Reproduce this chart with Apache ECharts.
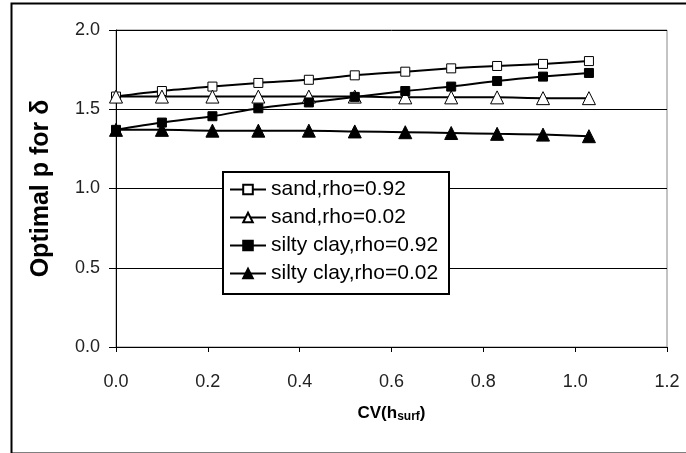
<!DOCTYPE html>
<html>
<head>
<meta charset="utf-8">
<script src="https://cdn.jsdelivr.net/npm/echarts@6/dist/echarts.min.js"></script>
<style>
  html, body { margin: 0; padding: 0; background: #fff; }
  #chart { width: 686px; height: 453px; }
</style>
</head>
<body>
<div id="chart"></div>
<script>
// CV(h_surf) values at which the optimal p was computed
var cvValues = [0, 0.1, 0.21, 0.31, 0.42, 0.52, 0.63, 0.73, 0.83, 0.93, 1.03];

var sand092 = [1.58, 1.615, 1.643, 1.666, 1.686, 1.714, 1.737, 1.758, 1.773, 1.786, 1.804];
var sand002 = [1.58, 1.58, 1.58, 1.58, 1.58, 1.58, 1.575, 1.575, 1.575, 1.57, 1.57];
var silty092 = [1.37, 1.416, 1.456, 1.506, 1.543, 1.578, 1.615, 1.643, 1.678, 1.706, 1.729];
var silty002 = [1.37, 1.37, 1.365, 1.365, 1.365, 1.36, 1.355, 1.35, 1.345, 1.34, 1.33];

var seriesNames = ['sand,rho=0.92', 'sand,rho=0.02', 'silty clay,rho=0.92', 'silty clay,rho=0.02'];

function pairs(vals) {
  return vals.map(function (v, i) { return [cvValues[i], v]; });
}

var font = 'Liberation Sans, Arial, sans-serif';

function makeSeries(name, vals, symbol, size, fill) {
  return {
    name: name,
    type: 'line',
    data: pairs(vals),
    smooth: 0.3,
    symbol: symbol,
    symbolSize: size,
    showAllSymbol: true,
    lineStyle: { color: '#000', width: 2 },
    itemStyle: { color: fill, borderColor: '#000', borderWidth: 1 },
    emphasis: { disabled: true },
    z: 3
  };
}

var chart = echarts.init(document.getElementById('chart'));
chart.setOption({
  animation: false,
  backgroundColor: '#fff',
  textStyle: { fontFamily: font },
  grid: {
    left: 116, right: 19, top: 30, bottom: 106,
    show: true, borderColor: '#888', borderWidth: 1, backgroundColor: 'transparent'
  },
  graphic: [
    {
      type: 'rect', left: 9, top: 1, z: -10,
      shape: { width: 700, height: 450 },
      style: { fill: 'none', stroke: '#000', lineWidth: 2 }
    },
    {
      type: 'rect', left: 222, top: 171, z: 10,
      shape: { width: 226, height: 122 },
      style: { fill: '#fff', stroke: '#000', lineWidth: 2 }
    }
  ],
  legend: {
    orient: 'vertical',
    left: 229, top: 179,
    padding: 0,
    z: 20,
    data: seriesNames,
    itemWidth: 36, itemHeight: 12, itemGap: 7,
    textStyle: { fontSize: 21, color: '#000', fontFamily: font, lineHeight: 21 },
    selectedMode: false
  },
  xAxis: {
    type: 'value',
    min: 0, max: 1.2, interval: 0.2,
    name: '{a|CV(h}{s|surf}{a|)}',
    nameLocation: 'middle',
    nameGap: 56,
    nameTextStyle: {
      rich: {
        a: { fontSize: 17, fontWeight: 'bold', color: '#000', fontFamily: font },
        s: { fontSize: 12, fontWeight: 'bold', color: '#000', fontFamily: font, padding: [8, 0, 0, 0] }
      }
    },
    axisLine: { lineStyle: { color: '#000', width: 1 } },
    axisTick: { show: true, inside: false, length: 5, lineStyle: { color: '#000' } },
    axisLabel: { fontSize: 18, color: '#222', margin: 26, formatter: function (v) { return v.toFixed(1); } },
    splitLine: { show: false }
  },
  yAxis: {
    type: 'value',
    min: 0, max: 2, interval: 0.5,
    name: 'Optimal p for δ',
    nameLocation: 'middle',
    nameGap: 62,
    nameTextStyle: { fontSize: 25, fontWeight: 'bold', color: '#000', fontFamily: font },
    axisLine: { show: true, lineStyle: { color: '#000', width: 1 } },
    axisTick: { show: true, length: 7, lineStyle: { color: '#000' } },
    axisLabel: { fontSize: 18, color: '#222', margin: 16, formatter: function (v) { return v.toFixed(1); } },
    splitLine: { show: true, lineStyle: { color: '#000', width: 1 } }
  },
  series: [
    makeSeries(seriesNames[0], sand092, 'rect', 9, '#fff'),
    makeSeries(seriesNames[1], sand002, 'triangle', 13, '#fff'),
    makeSeries(seriesNames[2], silty092, 'rect', 9, '#000'),
    makeSeries(seriesNames[3], silty002, 'triangle', 13, '#000')
  ]
});
</script>
</body>
</html>
